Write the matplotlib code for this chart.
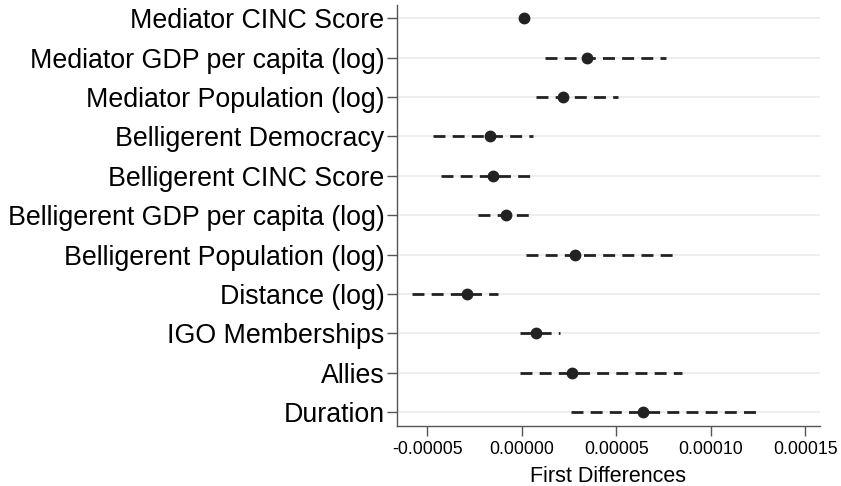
import matplotlib
matplotlib.use("Agg")
import matplotlib.pyplot as plt

plt.rcParams["font.family"] = ["Liberation Sans", "DejaVu Sans"]

variables = [
    "Mediator CINC Score",
    "Mediator GDP per capita (log)",
    "Mediator Population (log)",
    "Belligerent Democracy",
    "Belligerent CINC Score",
    "Belligerent GDP per capita (log)",
    "Belligerent Population (log)",
    "Distance (log)",
    "IGO Memberships",
    "Allies",
    "Duration",
]
estimates = [0.1e-5, 3.44e-5, 2.17e-5, -1.69e-5, -1.53e-5, -0.85e-5, 2.80e-5, -2.91e-5, 0.74e-5, 2.65e-5, 6.40e-5]
ci_low = [0.05e-5, 1.22e-5, 0.74e-5, -4.71e-5, -4.29e-5, -2.33e-5, 0.21e-5, -5.82e-5, -0.10e-5, -0.10e-5, 2.59e-5]
ci_high = [0.15e-5, 7.62e-5, 5.08e-5, 0.58e-5, 0.53e-5, 0.37e-5, 8.04e-5, -1.27e-5, 2.00e-5, 8.47e-5, 12.54e-5]
xticks = [-0.00005, 0.0, 0.00005, 0.00010, 0.00015]

fig, ax = plt.subplots(figsize=(8.41, 4.86), dpi=100)
fig.subplots_adjust(left=0.472, right=0.975, top=0.99, bottom=0.123)

ypos = list(range(1, len(variables) + 1))
dark = "#222222"

for y in ypos:
    ax.axhline(y, color="#ebebeb", lw=1.2, zorder=0)

for y, lo, hi in zip(ypos, ci_low, ci_high):
    ax.plot([lo, hi], [y, y], color=dark, lw=2.0, dashes=(4.3, 2.6), solid_capstyle="butt", zorder=2)
ax.plot(estimates, ypos, "o", color=dark, ms=7.5, zorder=3)

ax.set_yticks(ypos)
ax.set_yticklabels(variables, fontsize=19.3)
ax.set_ylim(11.36, 0.66)
ax.set_xlim(-0.0000661, 0.0001577)
ax.set_xticks(xticks)
ax.set_xticklabels([f"{v:.5f}" for v in xticks], fontsize=12.8)
ax.set_xlabel("First Differences", fontsize=15.5, labelpad=6)

for side in ["top", "right"]:
    ax.spines[side].set_visible(False)
for side in ["left", "bottom"]:
    ax.spines[side].set_color("#555555")
    ax.spines[side].set_linewidth(1.0)
ax.tick_params(axis="both", color="#555555", length=7, width=1.0)
ax.tick_params(axis="y", pad=2)

fig.savefig("out.png", dpi=100)
